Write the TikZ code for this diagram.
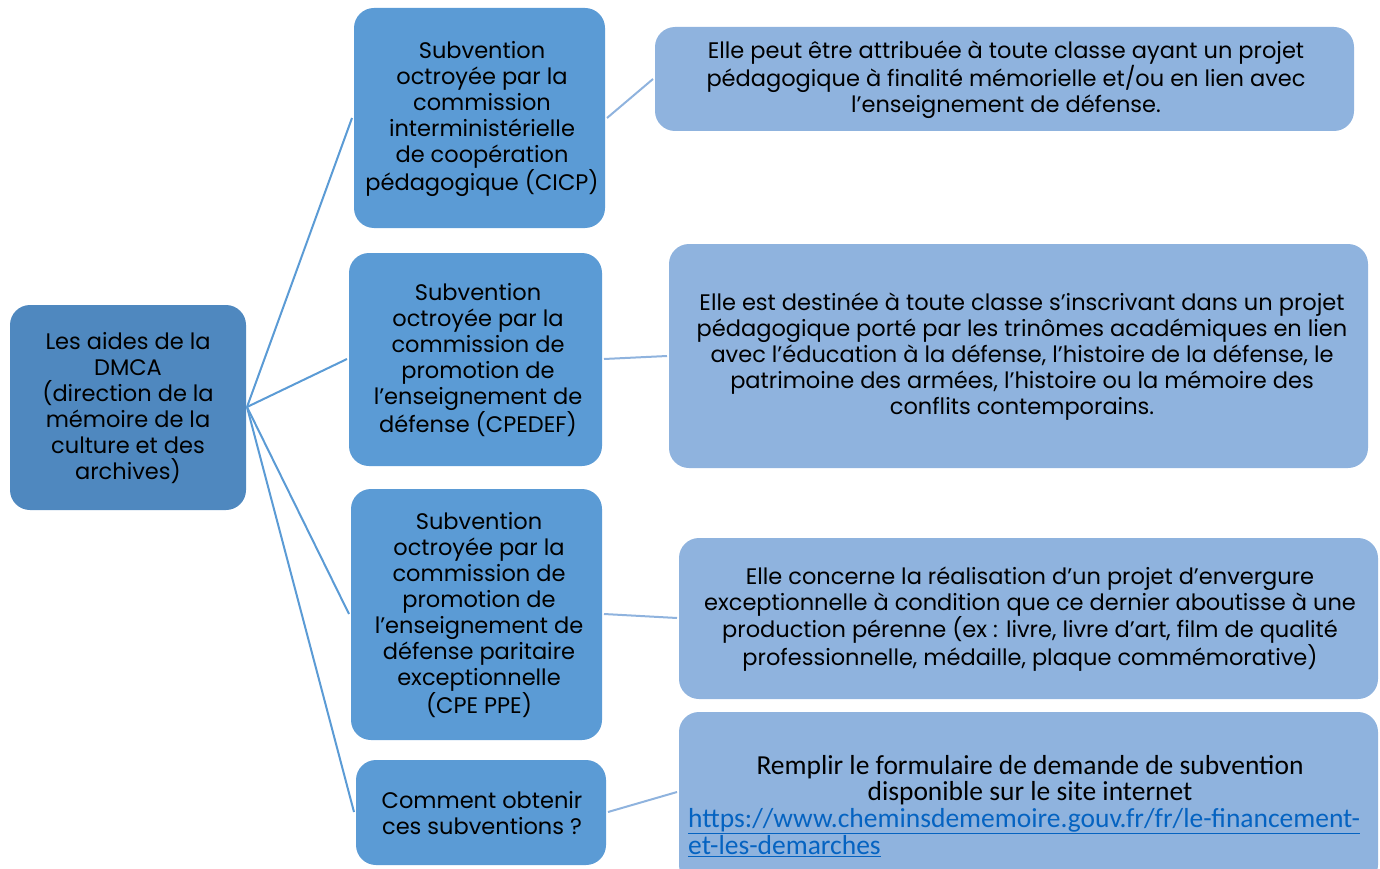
\documentclass[tikz,border=0pt]{standalone}
\usepackage{fontspec}
\setmainfont{Poppins}
\newfontfamily\urlfont{Carlito}
\definecolor{rootc}{HTML}{4F88BF}
\definecolor{midc}{HTML}{5B9BD5}
\definecolor{leafc}{HTML}{8FB3DE}
\definecolor{linec}{HTML}{5B9BD5}
\definecolor{linec2}{HTML}{8FB3DE}
\definecolor{urlc}{HTML}{0563C1}
\tikzset{
  boxbase/.style={rounded corners=20pt, inner sep=0pt, text=black, align=center,
    font=\fontsize{22.5}{26}\selectfont},
  link/.style={draw=linec, line width=2pt},
  link2/.style={draw=linec2, line width=2pt},
}
\begin{document}
\begin{tikzpicture}[x=1pt,y=-1pt]
\useasboundingbox (0,0) rectangle (1380,869);
% boxes
\fill[rootc, rounded corners=20pt] (10,305) rectangle (246,510);
\node[boxbase] (root) at (128,408) {Les aides de la\\DMCA\\(direction de la\\mémoire de la\\culture et des\\archives)};
\fill[midc, rounded corners=20pt] (354,8) rectangle (605,228);
\node[boxbase] (m1) at (482,119) {Subvention\\octroyée par la\\commission\\interministérielle\\de coopération\\pédagogique (CICP)};
\fill[midc, rounded corners=20pt] (349,253) rectangle (602,466);
\node[boxbase] (m2) at (478,360) {Subvention\\octroyée par la\\commission de\\promotion de\\l’enseignement de\\défense (CPEDEF)};
\fill[midc, rounded corners=20pt] (351,489) rectangle (602,740);
\node[boxbase] (m3) at (479,615) {Subvention\\octroyée par la\\commission de\\promotion de\\l’enseignement de\\défense paritaire\\exceptionnelle\\(CPE PPE)};
\fill[midc, rounded corners=20pt] (356,760) rectangle (606,865);
\node[boxbase] (m4) at (482,813) {Comment obtenir\\ces subventions ?};
\fill[leafc, rounded corners=20pt] (655,27) rectangle (1354,131);
\node[boxbase] (l1) at (1006,80) {Elle peut être attribuée à toute classe ayant un projet\\pédagogique à finalité mémorielle et/ou en lien avec\\l’enseignement de défense.};
\fill[leafc, rounded corners=20pt] (669,244) rectangle (1368,468);
\node[boxbase] (l2) at (1022,357) {Elle est destinée à  toute classe s’inscrivant dans un projet\\pédagogique porté par les trinômes académiques en lien\\avec l’éducation à la défense, l’histoire de la défense, le\\patrimoine des armées, l’histoire ou la mémoire des\\conflits contemporains.};
\fill[leafc, rounded corners=20pt] (679,538) rectangle (1378,699);
\node[boxbase] (l3) at (1030,619) {Elle concerne la réalisation d’un  projet d’envergure\\exceptionnelle à condition que ce dernier aboutisse à une\\production pérenne (ex : livre, livre d’art, film de qualité\\professionnelle, médaille, plaque commémorative)};
\fill[leafc, rounded corners=20pt] (679,712) rectangle (1378,885);
\node[boxbase, font=\urlfont\fontsize{27.5}{26}\selectfont] (l4) at (1030,780) {Remplir le formulaire de demande de subvention\\disponible sur le site internet};
\node[anchor=north west, inner sep=0pt, align=left, text=urlc, font=\urlfont\fontsize{27.5}{19}\selectfont] (url) at (688,808) {\underline{https://www.cheminsdememoire.gouv.fr/fr/le-financement-}\\\underline{et-les-demarches}};
% connectors
\coordinate (r0) at (247,407);
\coordinate (a1) at (352,118); \coordinate (a2) at (347,359);
\coordinate (a3) at (349,614); \coordinate (a4) at (354,812);
\draw[link] (r0) -- (a1);
\draw[link] (r0) -- (a2);
\draw[link] (r0) -- (a3);
\draw[link] (r0) -- (a4);
\coordinate (b1s) at (607,118); \coordinate (b1e) at (653,79);
\coordinate (b2s) at (604,359); \coordinate (b2e) at (667,356);
\coordinate (b3s) at (604,614); \coordinate (b3e) at (677,618);
\coordinate (b4s) at (608,812); \coordinate (b4e) at (677,792);
\draw[link2] (b1s) -- (b1e);
\draw[link2] (b2s) -- (b2e);
\draw[link2] (b3s) -- (b3e);
\draw[link2] (b4s) -- (b4e);
\end{tikzpicture}
\end{document}
